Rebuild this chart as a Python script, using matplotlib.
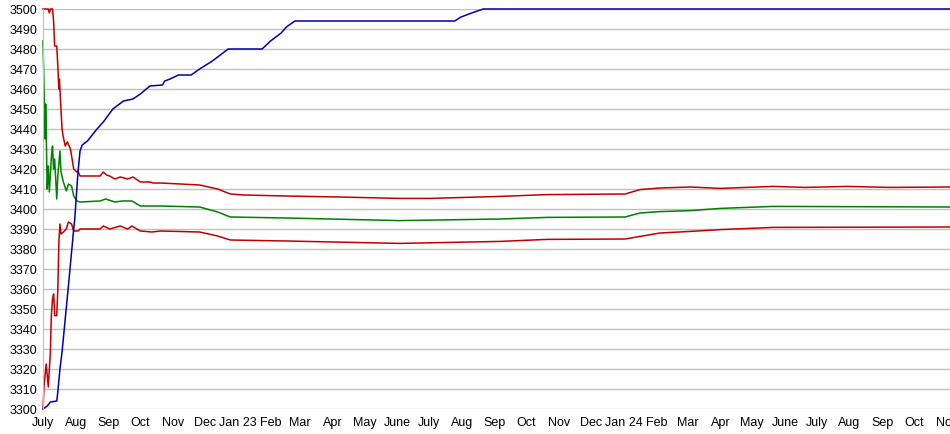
import numpy as np
import pandas as pd
import matplotlib
matplotlib.use("Agg")
import matplotlib.pyplot as plt

# days counted from 1 July 2022
start = pd.Timestamp("2022-07-01")
end_day = 857

blue_days = [0, 4, 7, 13, 14, 16, 18, 21, 24, 27, 29, 30, 33, 35, 37, 42, 51, 57, 66, 76, 85, 92,
             101, 113, 115, 120, 128, 140, 148, 160, 170, 175, 207, 215, 225, 230, 238, 389, 395,
             405, 416, 857]
blue_vals = [3300, 3301.5, 3303.5, 3304, 3308.5, 3320, 3328.5, 3345, 3361.5, 3378.5, 3390, 3395,
             3418, 3429, 3432, 3434, 3440, 3443.5, 3450, 3454, 3455, 3457.5, 3461.5, 3462, 3464,
             3465, 3467, 3467, 3470, 3474, 3478, 3480, 3480, 3484, 3488, 3491, 3494, 3494, 3496,
             3498, 3500, 3500]

upper_days = [0, 5, 6, 7, 9, 10, 11, 13, 14, 15, 15.5, 16, 17, 18, 19, 21, 23, 26, 27, 29, 32, 33,
              35, 54, 57, 60, 63, 68, 73, 80, 85, 92, 101, 104, 111, 130, 148, 165, 177, 190, 230,
              280, 337, 366, 432, 476, 550, 564, 583, 612, 640, 690, 720, 760, 800, 857]
upper_vals = [3500, 3500, 3498, 3500, 3500, 3494, 3481.5, 3481.5, 3471.5, 3460, 3465, 3460, 3450,
              3440, 3436.5, 3431.5, 3433.5, 3430, 3426.5, 3420, 3418.5, 3419, 3416.5, 3416.5,
              3418.5, 3417, 3416.5, 3415, 3416, 3415, 3416, 3413.5, 3413.5, 3413, 3413, 3412.5,
              3412, 3410, 3407.5, 3407, 3406.5, 3406, 3405.3, 3405.3, 3406.3, 3407.2, 3407.5,
              3409.7, 3410.5, 3411, 3410.3, 3411.3, 3410.8, 3411.3, 3410.8, 3411]

mid_days = [0, 1, 2, 2.5, 3, 3.5, 4, 5, 6, 8, 9, 10, 11, 13, 14, 16, 17, 19, 22, 24, 27, 29, 32,
            35, 54, 59, 68, 75, 84, 92, 111, 148, 165, 177, 230, 337, 432, 476, 550, 564, 583,
            612, 640, 690, 857]
mid_vals = [3484, 3460, 3435, 3452.5, 3441.5, 3423.5, 3410, 3421.5, 3408.5, 3426.5, 3431.5, 3420,
            3425, 3405, 3416.5, 3429, 3418.5, 3414, 3409, 3412.5, 3411.5, 3406.5, 3404, 3403.5,
            3404, 3405, 3403.5, 3404, 3404, 3401.5, 3401.5, 3401, 3398.5, 3396, 3395.5, 3394.2,
            3395, 3395.8, 3396, 3398, 3398.7, 3399.2, 3400.3, 3401.3, 3401]

lower_days = [0, 1, 3, 4, 5, 6, 7, 7.5, 8, 9, 10, 10.5, 11, 13, 14, 15, 16, 17, 19, 22, 24, 27,
              29, 33, 35, 54, 57, 63, 73, 80, 84, 92, 103, 111, 148, 165, 177, 230, 337, 432,
              476, 550, 583, 612, 640, 690, 857]
lower_vals = [3300, 3311.7, 3322.5, 3316.7, 3311, 3320, 3328.5, 3340, 3347.5, 3355, 3357.5,
              3353.5, 3346.7, 3346.7, 3360, 3383.5, 3392.5, 3387.5, 3388.3, 3390, 3393.5, 3392.5,
              3389, 3389, 3390, 3390, 3391.5, 3390, 3391.5, 3390, 3391.5, 3389, 3388.5, 3389,
              3388.5, 3386.5, 3384.5, 3384, 3382.8, 3383.8, 3384.8, 3385, 3388, 3388.8, 3389.7,
              3390.8, 3391]

month_labels = ["July", "Aug", "Sep", "Oct", "Nov", "Dec", "Jan 23", "Feb", "Mar", "Apr", "May",
                "June", "July", "Aug", "Sep", "Oct", "Nov", "Dec", "Jan 24", "Feb", "Mar", "Apr",
                "May", "June", "July", "Aug", "Sep", "Oct", "Nov"]

plt.rcParams['font.family'] = ['Liberation Sans', 'DejaVu Sans']

fig = plt.figure(figsize=(9.5, 4.35), dpi=100)
ax = fig.add_axes([43 / 950, 25 / 435, 1 - 43 / 950, 400 / 435])

ax.plot(lower_days, lower_vals, color='#c00000', lw=1.1, clip_on=False)
ax.plot(upper_days, upper_vals, color='#c00000', lw=1.1, clip_on=False)
ax.plot(mid_days, mid_vals, color='#008000', lw=1.1, clip_on=False)
ax.plot(blue_days, blue_vals, color='#0000b0', lw=1.1, clip_on=False)

month_pos = [(d - start).days for d in pd.date_range(start, periods=len(month_labels), freq="MS")]
ax.set_xticks(month_pos)
ax.set_xticklabels(month_labels)
ax.set_yticks(np.arange(3300, 3501, 10))
ax.set_xlim(0, end_day)
ax.set_ylim(3300, 3500)

ax.grid(axis='y', color='#c0c0c0', lw=1)
ax.set_axisbelow(True)
for s in ['top', 'right', 'bottom']:
    ax.spines[s].set_visible(False)
ax.spines['left'].set_color('#c0c0c0')
ax.tick_params(length=0, labelsize=9, colors='#000000')
ax.tick_params(axis='y', pad=4)
ax.tick_params(axis='x', pad=5)

fig.savefig("out.png", dpi=100)
